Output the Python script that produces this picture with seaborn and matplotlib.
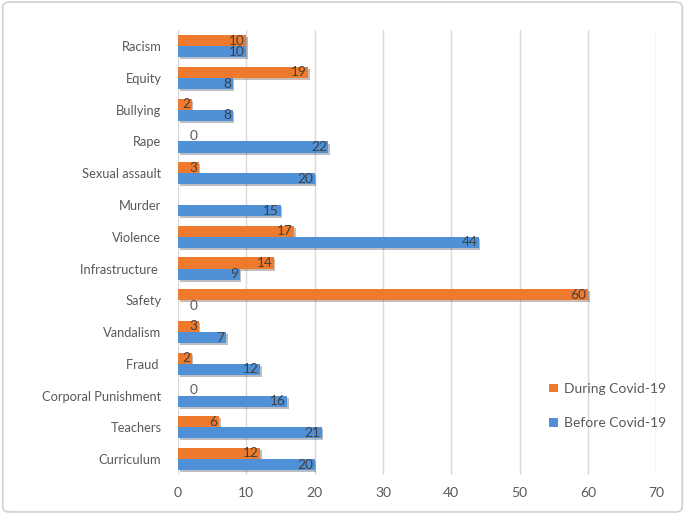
import matplotlib.patheffects as pe
import matplotlib.pyplot as plt
import numpy as np
import pandas as pd
import seaborn as sns
from matplotlib.patches import FancyBboxPatch

CATEGORIES = [
    "Racism", "Equity", "Bullying", "Rape", "Sexual assault", "Murder", "Violence",
    "Infrastructure ", "Safety", "Vandalism", "Fraud ", "Corporal Punishment",
    "Teachers", "Curriculum",
]
DURING = [10, 19, 2, 0, 3, np.nan, 17, 14, 60, 3, 2, 0, 6, 12]
BEFORE = [10, 8, 8, 22, 20, 15, 44, 9, 0, 7, 12, 16, 21, 20]
SERIES = ["During Covid-19", "Before Covid-19"]
COLORS = ["#EE7B2D", "#4F90D7"]
X_TICKS = [0, 10, 20, 30, 40, 50, 60, 70]


def main() -> None:
    df = pd.DataFrame(
        {
            "category": CATEGORIES * 2,
            "value": DURING + BEFORE,
            "series": [SERIES[0]] * len(CATEGORIES) + [SERIES[1]] * len(CATEGORIES),
        }
    )

    sns.set_theme(style="white")
    plt.rcParams["font.family"] = ["Lato", "DejaVu Sans"]

    fig = plt.figure(figsize=(6.85, 5.14), dpi=100)
    ax = fig.add_axes([0.26, 0.076, 0.698, 0.865])

    sns.barplot(
        data=df, y="category", x="value", hue="series", hue_order=SERIES,
        palette=COLORS, orient="h", width=0.7, saturation=1, linewidth=0,
        ax=ax, legend=True,
    )

    # office-style drop shadow under each bar
    shadow = [pe.SimplePatchShadow(offset=(1.2, -1.5), alpha=0.3), pe.Normal()]
    for container in ax.containers:
        for bar in container:
            bar.set_path_effects(shadow)
            bar.set_zorder(3)
        vals = container.datavalues
        inside = ["" if (np.isnan(v) or v == 0) else f"{v:g}" for v in vals]
        zeros = ["0" if v == 0 else "" for v in vals]
        texts = ax.bar_label(container, labels=inside, padding=-1, fontsize=9.8, color="#404040")
        for t in texts:
            t.set_ha("right")
            t.set_zorder(4)
        ax.bar_label(container, labels=zeros, padding=8, fontsize=9.8, color="#595959")

    ax.set_xlim(0, 70)
    ax.set_xticks(X_TICKS)
    ax.set_xlabel("")
    ax.set_ylabel("")
    ax.grid(axis="x", color="#d9d9d9", linewidth=1, zorder=0)
    ax.set_axisbelow(True)
    for spine in ax.spines.values():
        spine.set_visible(False)
    ax.tick_params(axis="both", length=0, labelcolor="#595959")
    ax.tick_params(axis="y", pad=12, labelsize=9.3)
    ax.tick_params(axis="x", pad=9, labelsize=10)

    handles, labels = ax.get_legend_handles_labels()
    ax.legend(
        handles, labels, loc="center left", bbox_to_anchor=(0.75, 0.155),
        frameon=False, fontsize=10, labelcolor="#595959",
        handlelength=0.6, handleheight=0.6, handletextpad=0.5, labelspacing=1.6,
    )

    fig.patches.append(
        FancyBboxPatch(
            (0.004, 0.004), 0.992, 0.992, boxstyle="round,pad=0,rounding_size=0.01",
            transform=fig.transFigure, fill=False, edgecolor="#d0d0d0", linewidth=1.2,
        )
    )

    fig.savefig("out.png", dpi=100)
    plt.close(fig)


if __name__ == "__main__":
    main()
